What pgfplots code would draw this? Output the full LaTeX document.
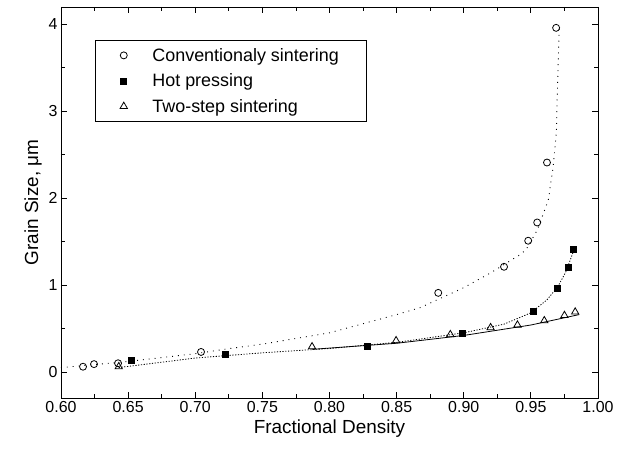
\documentclass[border=0pt]{standalone}
\usepackage{pgfplots}
\pgfplotsset{compat=1.18}
\usepackage{fontspec}
\setmainfont{Liberation Sans}
\begin{document}
\begin{tikzpicture}
\begin{axis}[
  scale only axis,
  width=537bp, height=391bp,
  xmin=0.6, xmax=1.0,
  ymin=-0.3, ymax=4.2,
  xtick={0.6,0.65,...,1.0},
  minor x tick num=1,
  ytick={0,1,2,3,4},
  minor y tick num=1,
  tick align=inside,
  major tick length=6bp,
  minor tick length=4bp,
  xticklabel style={/pgf/number format/.cd, fixed, fixed zerofill, precision=2},
  /pgf/number format/assume math mode=true,
  tick label style={font=\fontsize{16}{18}\selectfont},
  label style={font=\fontsize{19}{22}\selectfont},
  xlabel={Fractional Density},
  ylabel={Grain Size, μm},
  axis line style={line width=0.9pt},
  every tick/.style={black, line width=0.8pt},
  legend cell align=left,
  legend style={at={(0.063,0.916)}, anchor=north west,
    font=\fontsize{18}{20}\selectfont, draw=black, line width=0.6pt,
    inner xsep=25bp, inner ysep=6bp, row sep=7bp, column sep=23bp},
]
% fitted curves
\addplot[black, line width=0.9pt, dash pattern=on 0.9pt off 5pt, forget plot] coordinates {
  (0.600,0.05) (0.650,0.12) (0.700,0.21) (0.726,0.27) (0.750,0.32) (0.800,0.45)
  (0.850,0.66) (0.8675,0.74) (0.900,0.97) (0.920,1.14) (0.942,1.35) (0.9465,1.41)
  (0.955,1.64) (0.963,1.98) (0.9666,2.36) (0.969,2.76) (0.9696,3.14) (0.971,3.90)
  (0.971,4.00)
};
\addplot[black, line width=0.8pt, dash pattern=on 1.2pt off 1.6pt, forget plot] coordinates {
  (0.643,0.05) (0.700,0.16) (0.750,0.22) (0.800,0.27) (0.850,0.34) (0.900,0.45)
  (0.930,0.55) (0.950,0.68) (0.962,0.83) (0.970,0.98) (0.976,1.15) (0.982,1.40)
};
\addplot[black, line width=0.8pt, forget plot] coordinates {
  (0.787,0.26) (0.850,0.33) (0.900,0.42) (0.950,0.54) (0.986,0.66)
};
% data
\addplot[only marks, mark=o, mark size=3.5bp, mark options={line width=0.8pt, black}] coordinates {
  (0.6164,0.06) (0.6246,0.09) (0.6425,0.10) (0.7043,0.23) (0.881,0.91)
  (0.930,1.21) (0.948,1.51) (0.9547,1.72) (0.962,2.41) (0.9688,3.96)
};
\addlegendentry{Conventionaly sintering}
\addplot[only marks, mark=square*, mark size=3bp, mark options={black}] coordinates {
  (0.652,0.13) (0.7222,0.20) (0.828,0.30) (0.899,0.45) (0.952,0.70)
  (0.9696,0.96) (0.9778,1.21) (0.9815,1.41)
};
\addlegendentry{Hot pressing}
\addplot[only marks, mark=triangle, mark size=4.2bp, mark options={line width=0.8pt, black}] coordinates {
  (0.643,0.06) (0.787,0.29) (0.8496,0.36) (0.890,0.43) (0.920,0.51)
  (0.940,0.54) (0.960,0.59) (0.975,0.65) (0.983,0.69)
};
\addlegendentry{Two-step sintering}
\end{axis}
\pgfresetboundingbox
\path ([shift={(-61bp,-56bp)}]current axis.south west) rectangle ([shift={(26bp,7bp)}]current axis.north east);
\end{tikzpicture}
\end{document}
